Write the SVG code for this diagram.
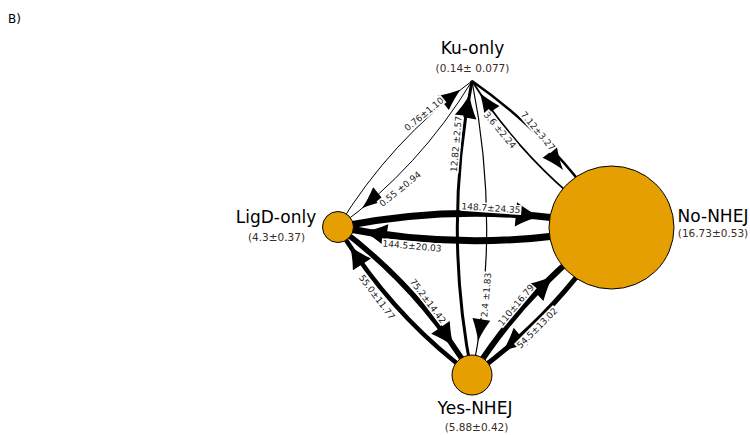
<svg xmlns="http://www.w3.org/2000/svg" width="750" height="435" viewBox="0 0 750 435">
<style>
.e{fill:none;stroke:#000;stroke-linecap:butt}
.n{fill:#e69f00;stroke:#000;stroke-width:1}
.lbl{font-family:"DejaVu Sans",sans-serif;font-size:17px;fill:#000;text-anchor:middle}
.val{font-family:"DejaVu Sans",sans-serif;font-size:10.5px;fill:#3a2d27;text-anchor:middle}
.el{font-family:"DejaVu Sans",sans-serif;font-size:9px;fill:#222;text-anchor:middle}
.bg{fill:#fff;stroke:none}
.hd{fill:#000}
</style>
<defs>
<path id="ah" d="M0,0 Q-10,-2.8 -22,-9 L-22,9 Q-10,2.8 0,0 Z"/>
</defs>
<rect width="750" height="435" fill="#fff"/>
<text x="8" y="23" font-family="DejaVu Sans, sans-serif" font-size="12" fill="#000">B)</text>
<g id="connectors">
  <path class="e" stroke-width="1" d="M338,227 Q390.4,140.6 472,81"/>
  <use href="#ah" class="hd" transform="translate(460.7,89.5) rotate(-37.7)"/>
  <path class="e" stroke-width="1" d="M472,81 Q419.6,167.4 338,227"/>
  <use href="#ah" class="hd" transform="translate(362,208.3) rotate(140.3)"/>
  <path class="e" stroke-width="2.5" d="M472,81 Q556.6,140 612,227"/>
  <use href="#ah" class="hd" transform="translate(563,170) rotate(53)"/>
  <path class="e" stroke-width="1.8" d="M612,227 Q527.4,168 472,81"/>
  <use href="#ah" class="hd" transform="translate(479.7,92.7) rotate(-124)"/>
  <path class="e" stroke-width="3" d="M472,375 Q442.6,228 472,81"/>
  <use href="#ah" class="hd" transform="translate(469.4,94.8) rotate(-79.7) scale(1.05,1.25)"/>
  <path class="e" stroke-width="1.2" d="M472,81 Q501.4,228 472,375"/>
  <use href="#ah" class="hd" transform="translate(478,341.2) rotate(98.8)"/>
  <path class="e" stroke-width="7" d="M338,227 Q475,199.6 612,227"/>
  <use href="#ah" class="hd" transform="translate(540,216.6) rotate(5.4) scale(1.1,1.35)"/>
  <path class="e" stroke-width="7" d="M612,227 Q475,254.4 338,227"/>
  <use href="#ah" class="hd" transform="translate(363.7,231.7) rotate(189.2) scale(1.05,1.25)"/>
  <path class="e" stroke-width="5.5" d="M338,227 Q419.8,287.6 472,375"/>
  <use href="#ah" class="hd" transform="translate(453.6,346.4) rotate(55.4) scale(1.05,1.25)"/>
  <path class="e" stroke-width="4.5" d="M472,375 Q390.2,314.4 338,227"/>
  <use href="#ah" class="hd" transform="translate(350,246) rotate(-123) scale(1,1.2)"/>
  <path class="e" stroke-width="6" d="M472,375 Q527.2,287 612,227"/>
  <use href="#ah" class="hd" transform="translate(553,276) rotate(-43.3) scale(1.1,1.3)"/>
  <path class="e" stroke-width="5" d="M612,227 Q556.8,315 472,375"/>
  <use href="#ah" class="hd" transform="translate(503,351) rotate(140.5) scale(1.05,1.25)"/>
  <g transform="translate(424,114) rotate(-39)"><rect class="bg" x="-24.8" y="-5" width="49.6" height="10"/><text class="el" y="3.2">0.76±1.10</text></g>
  <g transform="translate(400,189) rotate(-39)"><rect class="bg" x="-26.2" y="-5" width="52.4" height="10"/><text class="el" y="3.2">0.55 ±0.94</text></g>
  <g transform="translate(538,131) rotate(50)"><rect class="bg" x="-24.8" y="-5" width="49.6" height="10"/><text class="el" y="3.2">7.12±3.27</text></g>
  <g transform="translate(500,130) rotate(50)"><rect class="bg" x="-23.3" y="-5" width="46.6" height="10"/><text class="el" y="3.2">3.6 ±2.24</text></g>
  <g transform="translate(456,144) rotate(-85)"><rect class="bg" x="-29.1" y="-5" width="58.2" height="10"/><text class="el" y="3.2">12.82 ±2.57</text></g>
  <g transform="translate(486,295) rotate(-85)"><rect class="bg" x="-23.3" y="-5" width="46.6" height="10"/><text class="el" y="3.2">2.4 ±1.83</text></g>
  <g transform="translate(491,208) rotate(4)"><rect class="bg" x="-30.5" y="-5" width="61" height="10"/><text class="el" y="3.2">148.7±24.35</text></g>
  <g transform="translate(412,246) rotate(5)"><rect class="bg" x="-30.5" y="-5" width="61" height="10"/><text class="el" y="3.2">144.5±20.03</text></g>
  <g transform="translate(428,301) rotate(53)"><rect class="bg" x="-27.6" y="-5" width="55.2" height="10"/><text class="el" y="3.2">75.2±14.42</text></g>
  <g transform="translate(377,297) rotate(53)"><rect class="bg" x="-27.6" y="-5" width="55.2" height="10"/><text class="el" y="3.2">55.0±11.77</text></g>
  <g transform="translate(516,305) rotate(-50)"><rect class="bg" x="-26.2" y="-5" width="52.4" height="10"/><text class="el" y="3.2">110±16.79</text></g>
  <g transform="translate(537,328) rotate(-45)"><rect class="bg" x="-27.6" y="-5" width="55.2" height="10"/><text class="el" y="3.2">54.5±13.02</text></g>
</g>
<g id="node-ku">
  <circle class="n" cx="472" cy="81" r="0.5"/>
  <text class="lbl" x="472.5" y="54">Ku-only</text>
  <text class="val" x="472.5" y="72">(0.14± 0.077)</text>
</g>
<g id="node-ligd">
  <circle class="n" cx="338" cy="227" r="15.5"/>
  <text class="lbl" x="276" y="223">LigD-only</text>
  <text class="val" x="276.5" y="241">(4.3±0.37)</text>
</g>
<g id="node-no">
  <ellipse class="n" cx="611.5" cy="227.5" rx="62.5" ry="61.5"/>
  <text class="lbl" x="713" y="221.5">No-NHEJ</text>
  <text class="val" x="713" y="237">(16.73±0.53)</text>
</g>
<g id="node-yes">
  <circle class="n" cx="472" cy="375" r="20"/>
  <text class="lbl" x="475" y="414">Yes-NHEJ</text>
  <text class="val" x="476.5" y="431">(5.88±0.42)</text>
</g>
</svg>
